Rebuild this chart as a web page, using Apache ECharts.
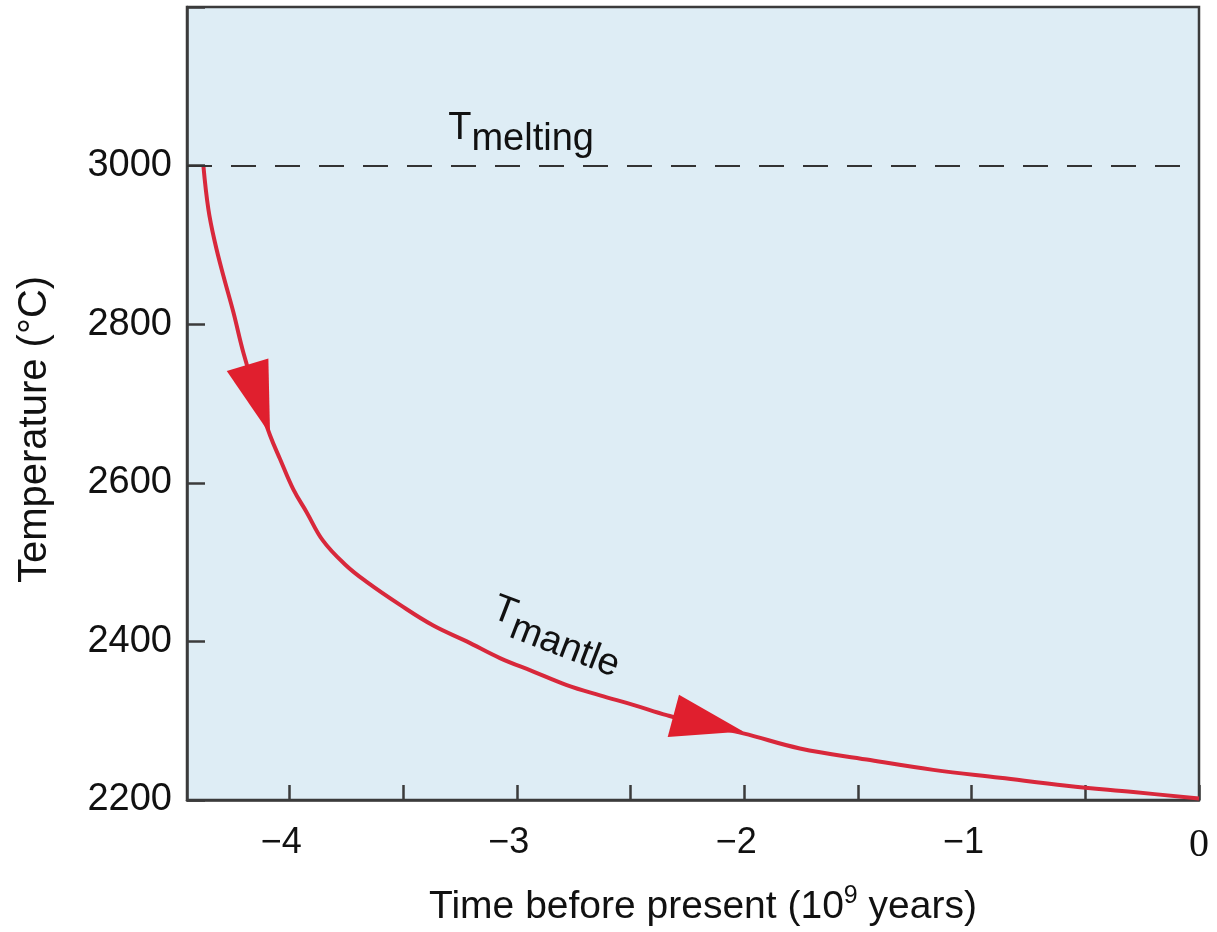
<!DOCTYPE html>
<html>
<head>
<meta charset="utf-8">
<title>Tmantle</title>
<script src="https://cdn.jsdelivr.net/npm/echarts@6/dist/echarts.min.js"></script>
<style>
	html, body { margin: 0; padding: 0; background: #fff; }
	#tempChart { width: 1217px; height: 932px; }
</style>
</head>
<body>
<div id="tempChart"></div>
<script>
/*** 地幔温度曲线 ****/
// 时间 (10^9 年前), 读图所得
var timeGyr = [-4.378, -4.356, -4.327, -4.290, -4.246, -4.202, -4.147, -4.085, -4.041, -3.983,
	-3.924, -3.852, -3.755, -3.660, -3.513, -3.367, -3.220, -3.074, -2.927, -2.780,
	-2.634, -2.488, -2.341, -2.172, -2.004, -1.755, -1.461, -1.168, -0.875, -0.582, -0.289, 0];
// 地幔温度 (°C)
var mantleTemp = [3000, 2945, 2903, 2861, 2815, 2764, 2711, 2660, 2630, 2592,
	2563, 2527, 2497, 2475, 2446, 2420, 2400, 2379, 2362, 2345,
	2332, 2320, 2307, 2294, 2284, 2265, 2251, 2238, 2228, 2218, 2210, 2202];
var meltingTemp = 3000;
// 刻度
var xTicks = [-4, -3.5, -3, -2.5, -2, -1.5, -1, -0.5, 0];
var xLabels = [-4, -3, -2, -1, 0];
// 箭头与文字位置 (数据坐标)
var arrowTime = [-4.180, -2.170];
var arrowTemp = [2709, 2306];
var meltLabelAt = [-2.981, 3047];
var mantleLabelAt = [-2.819, 2412];

var tempReport = {
	init: function() {
		this.chart();
	},
	chart: function() {
		var tempChart = echarts.init(document.getElementById('tempChart'));
		var font = 'Liberation Sans, Arial, Helvetica, sans-serif';
		var red = '#d8283b';
		var arrowRed = '#e01f2e';
		var frame = '#3b3b3b';
		var subRich = {
			t: { fontSize: 38, fontFamily: font, color: '#111' },
			s: { fontSize: 38, fontFamily: font, color: '#111', padding: [23, 0, 0, 0] }
		};
		var series = [];
		for (var i = 0; i < timeGyr.length; i++) {
			series.push([timeGyr[i], mantleTemp[i]]);
		}
		var option = {
			animation: false,
			grid: {
				left: 187,
				right: 18,
				top: 7,
				bottom: 130,
				show: true,
				backgroundColor: '#deedf5',
				borderColor: frame,
				borderWidth: 2.5
			},
			xAxis: {
				type: 'value',
				min: -4.45,
				max: 0,
				name: 'Time before present (10{sup|9} years)',
				nameLocation: 'middle',
				nameGap: 84,
				nameTextStyle: {
					fontSize: 39,
					fontFamily: font,
					color: '#111',
					padding: [0, 0, 0, 20],
					rich: {
						sup: { fontSize: 25, fontFamily: font, color: '#111', padding: [0, 0, 22, 0] }
					}
				},
				axisLine: { show: true, onZero: false, lineStyle: { color: frame, width: 2.5 } },
				axisTick: {
					show: true,
					inside: true,
					length: 15,
					customValues: xTicks,
					lineStyle: { color: frame, width: 2.5 }
				},
				axisLabel: {
					customValues: xLabels,
					margin: 25,
					fontSize: 36,
					fontFamily: font,
					color: '#111',
					formatter: function(v) {
						if (v === 0) return '{z|0}';
						return '\u2212' + Math.abs(v) + '{g| }';
					},
					rich: {
						z: { fontSize: 40, fontFamily: 'Liberation Serif, serif', color: '#111' },
						g: { width: 16, fontSize: 36 }
					}
				},
				splitLine: { show: false }
			},
			yAxis: {
				type: 'value',
				min: 2200,
				max: 3200,
				interval: 200,
				name: 'Temperature (\u00b0C)',
				nameLocation: 'middle',
				nameGap: 132,
				nameTextStyle: {
					fontSize: 40,
					fontFamily: font,
					color: '#111',
					padding: [0, 52, 0, 0]
				},
				axisLine: { show: true, onZero: false, lineStyle: { color: frame, width: 2.5 } },
				axisTick: {
					show: true,
					inside: true,
					length: 18,
					lineStyle: { color: frame, width: 2.5 }
				},
				axisLabel: {
					margin: 15,
					fontSize: 38,
					fontFamily: font,
					color: '#111',
					formatter: function(v) {
						return v === 3200 ? '' : v;
					}
				},
				splitLine: { show: false }
			},
			series: [{
				type: 'line',
				data: series,
				showSymbol: false,
				smooth: 0.4,
				lineStyle: { color: red, width: 4 },
				markLine: {
					silent: true,
					symbol: ['none', 'none'],
					label: { show: false },
					lineStyle: { color: '#333', width: 2, type: [25, 19] },
					data: [{ yAxis: meltingTemp }]
				},
				markPoint: {
					silent: true,
					label: { show: false },
					data: [{
						coord: [arrowTime[0], arrowTemp[0]],
						symbol: 'path://M0,12.4L41.6,0L43.3,75.7Z',
						symbolSize: [43.3, 75.7],
						itemStyle: { color: arrowRed }
					}, {
						coord: [arrowTime[1], arrowTemp[1]],
						symbol: 'path://M11.3,0L75.6,36.6L0,42.3Z',
						symbolSize: [75.6, 42.3],
						itemStyle: { color: arrowRed }
					}, {
						coord: meltLabelAt,
						symbol: 'circle',
						symbolSize: 0,
						label: {
							show: true,
							position: 'inside',
							formatter: '{t|T}{s|melting}',
							rich: subRich
						}
					}, {
						coord: mantleLabelAt,
						symbol: 'circle',
						symbolSize: 0,
						label: {
							show: true,
							position: 'inside',
							rotate: -21,
							formatter: '{t|T}{s|mantle}',
							rich: subRich
						}
					}]
				}
			}]
		};
		tempChart.setOption(option, true);
	}
};
//初始化
tempReport.init();
</script>
</body>
</html>
